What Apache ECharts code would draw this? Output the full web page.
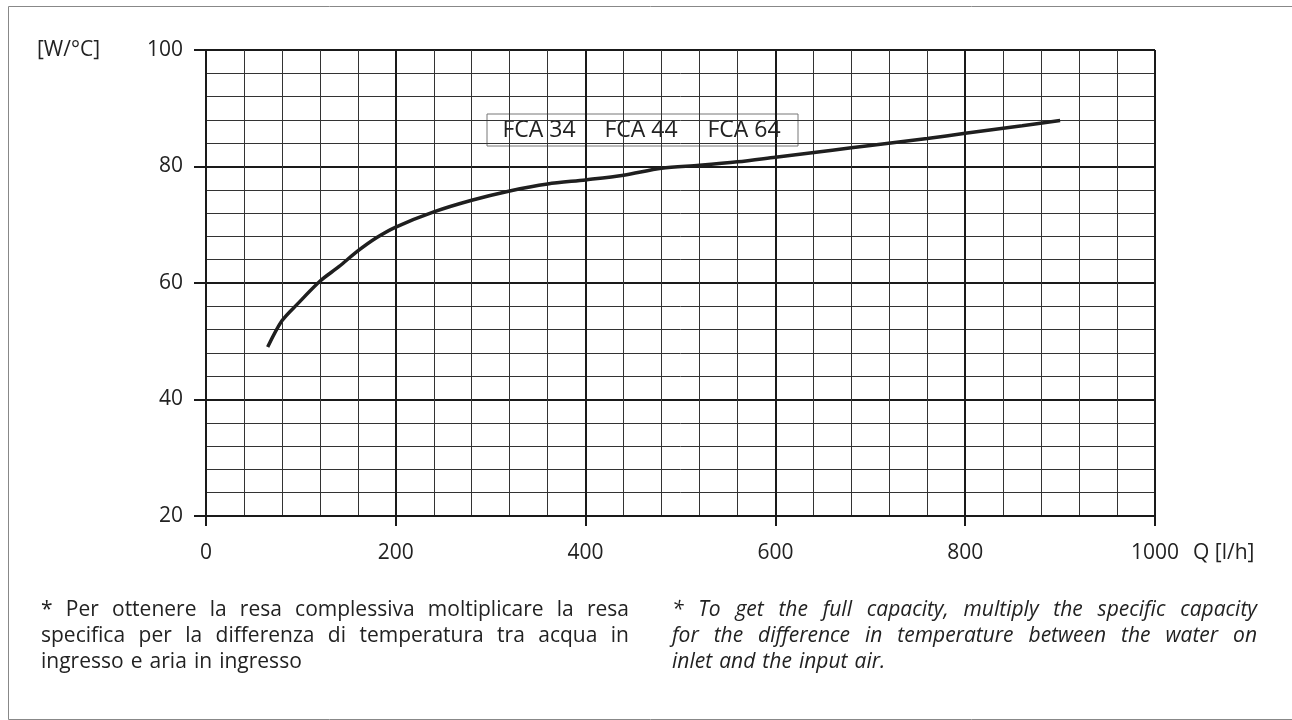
<!DOCTYPE html>
<html><head><meta charset="utf-8">
<script src="https://cdn.jsdelivr.net/npm/echarts@6/dist/echarts.min.js"></script>
<style>html,body{margin:0;padding:0;background:#fff}#c{width:1292px;height:720px}</style>
</head><body><div id="c"></div>
<script>
// Flow rate Q [l/h]
const flowQ = [65, 80, 97, 120, 140, 160, 180, 200, 240, 280, 320, 360, 400, 440, 480, 520, 560, 600, 660, 700, 760, 800, 860, 900];
// Specific capacity [W/°C]
const capacity = [49, 53.5, 56.5, 60.3, 62.8, 65.5, 67.8, 69.6, 72.2, 74.2, 75.8, 77, 77.7, 78.5, 79.7, 80.2, 80.8, 81.6, 82.8, 83.6, 84.8, 85.7, 87, 87.9];
const seriesName = 'FCA 34   FCA 44   FCA 64';
const yUnit = '[W/°C]';
const xUnit = 'Q [l/h]';
const noteIT = ['* Per ottenere la resa complessiva moltiplicare la resa', 'specifica per la differenza di temperatura tra acqua in', 'ingresso e aria in ingresso'];
const noteEN = ['* To get the full capacity, multiply the specific capacity', 'for the difference in temperature between the water on', 'inlet and the input air.'];

const FONT = '"Open Sans", Lato, sans-serif';
const measureCtx = document.createElement('canvas').getContext('2d');
function justified(lines, x0, y0, width, font, lineHeight) {
  measureCtx.font = font;
  const els = [];
  lines.forEach((line, li) => {
    const words = line.split(' ');
    const last = li === lines.length - 1;
    const widths = words.map(w => measureCtx.measureText(w).width);
    const total = widths.reduce((a, b) => a + b, 0);
    const space = measureCtx.measureText(' ').width;
    const gap = last || words.length < 2 ? space * 1.3 : (width - total) / (words.length - 1);
    let x = x0;
    words.forEach((w, wi) => {
      els.push({type: 'text', x: x, y: y0 + li * lineHeight, silent: true,
        style: {text: w, font: font, fill: '#222', textVerticalAlign: 'middle'}});
      x += widths[wi] + gap;
    });
  });
  return els;
}
// label box entries: split the series name into its three model names
const models = seriesName.split(/\s{2,}/);
const modelCenters = [539, 641, 744];

const chart = echarts.init(document.getElementById('c'));
chart.setOption({
  backgroundColor: '#fff',
  animation: false,
  grid: {left: 206, right: 137, top: 50, bottom: 204},
  xAxis: {
    type: 'value', min: 0, max: 1000, interval: 200,
    name: '\n' + xUnit, nameLocation: 'end', nameGap: 38,
    nameTextStyle: {fontFamily: FONT, fontSize: 21, color: '#222', align: 'left', verticalAlign: 'middle', lineHeight: 74},
    axisLine: {show: true, lineStyle: {color: '#1a1a1a', width: 2}},
    axisTick: {show: true, length: 10, lineStyle: {color: '#1a1a1a', width: 2}},
    axisLabel: {fontFamily: FONT, fontSize: 21, color: '#222', margin: 27, formatter: v => String(v)},
    splitLine: {show: true, lineStyle: {color: '#1a1a1a', width: 2}},
    minorTick: {show: false, splitNumber: 5},
    minorSplitLine: {show: true, lineStyle: {color: '#333', width: 1}}
  },
  yAxis: {
    type: 'value', min: 20, max: 100, interval: 20,
    name: yUnit, nameLocation: 'end', nameGap: 0,
    nameTextStyle: {fontFamily: FONT, fontSize: 21, color: '#222', align: 'right', verticalAlign: 'middle', padding: [0, 106, 8, 0]},
    axisLine: {show: true, lineStyle: {color: '#1a1a1a', width: 2}},
    axisTick: {show: true, length: 12, lineStyle: {color: '#1a1a1a', width: 2}},
    axisLabel: {fontFamily: FONT, fontSize: 21, color: '#222', margin: 23, padding: [0, 0, 6, 0]},
    splitLine: {show: true, lineStyle: {color: '#1a1a1a', width: 2}},
    minorTick: {show: false, splitNumber: 5},
    minorSplitLine: {show: true, lineStyle: {color: '#333', width: 1}}
  },
  series: [{
    name: seriesName, type: 'line', smooth: 0.3, symbol: 'none',
    data: flowQ.map((q, i) => [q, capacity[i]]),
    lineStyle: {color: '#1f1f1f', width: 3.5}
  }],
  graphic: [
    {type: 'rect', left: 6, top: 4, shape: {width: 1284, height: 713}, style: {fill: 'none', stroke: '#888', lineWidth: 1}, silent: true},
    {type: 'rect', x: 487, y: 114, shape: {x: 0, y: 0, width: 311, height: 32}, style: {fill: '#fff', stroke: '#777', lineWidth: 1}, silent: true}
  ].concat(models.map((m, i) => ({type: 'text', x: modelCenters[i], y: 130, silent: true,
      style: {text: m, font: '23px ' + FONT, fill: '#222', textAlign: 'center', textVerticalAlign: 'middle'}})))
   .concat(justified(noteIT, 41, 610, 588, '21px ' + FONT, 26))
   .concat(justified(noteEN, 672, 610, 585, 'italic 21px ' + FONT, 26))
});
</script></body></html>
